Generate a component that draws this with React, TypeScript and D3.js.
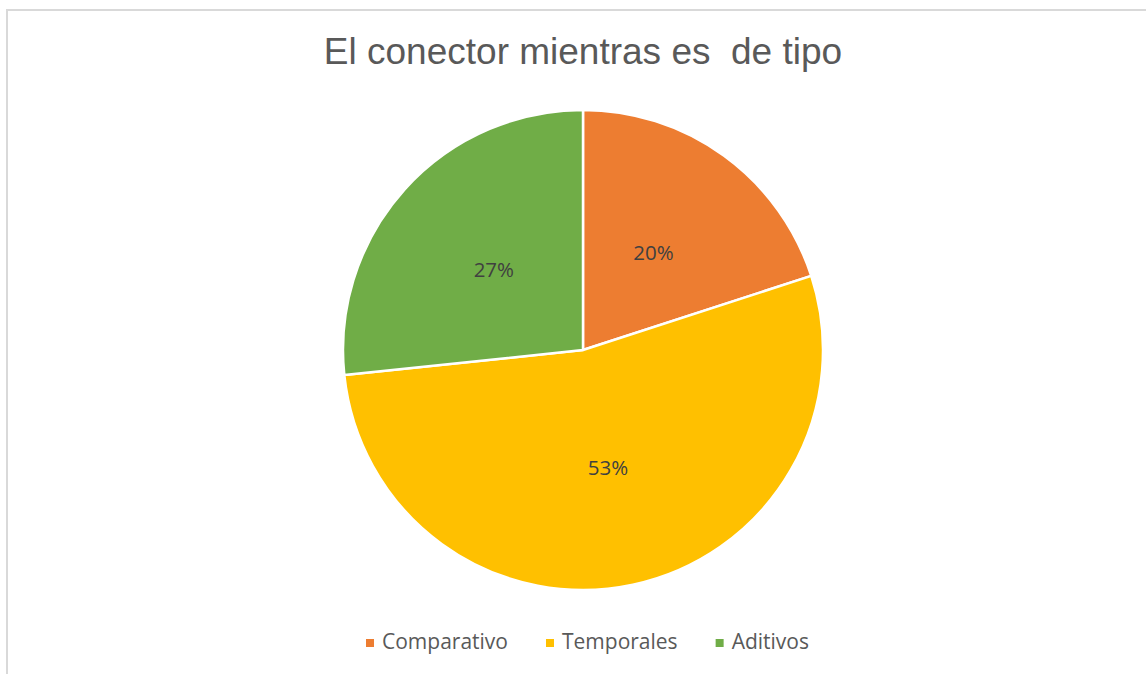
import React, { useEffect, useRef } from 'react';
import * as d3 from 'd3';

const categories = ['Comparativo', 'Temporales', 'Aditivos'];
const counts = [3, 8, 4];
const colors = ['#ED7D31', '#FFC000', '#70AD47'];
const title = 'El conector mientras es  de tipo';

const W = 1146;
const H = 674;

export default function App() {
  const svgRef = useRef<SVGSVGElement>(null);

  useEffect(() => {
    const svg = d3.select(svgRef.current);
    svg.selectAll('*').remove();

    // chart frame (only top and left edges are visible in the crop)
    svg.append('rect')
      .attr('x', 7).attr('y', 10)
      .attr('width', W + 20).attr('height', H + 20)
      .attr('fill', '#fff')
      .attr('stroke', '#d9d9d9')
      .attr('stroke-width', 2);

    svg.append('text')
      .attr('x', 583).attr('y', 64)
      .attr('text-anchor', 'middle')
      .attr('font-family', '"Liberation Sans", Arial, sans-serif')
      .attr('font-size', 37)
      .attr('fill', '#595959')
      .style('white-space', 'pre')
      .text(title);

    const cx = 583, cy = 350, r = 240;
    const total = d3.sum(counts);
    const pie = d3.pie<number>().sort(null).value(d => d);
    const arcs = pie(counts);
    const arc = d3.arc<d3.PieArcDatum<number>>().innerRadius(0).outerRadius(r);
    const labelArc = d3.arc<d3.PieArcDatum<number>>().innerRadius(r).outerRadius(0);

    const g = svg.append('g').attr('transform', `translate(${cx},${cy})`);
    g.selectAll('path')
      .data(arcs)
      .enter()
      .append('path')
      .attr('d', arc)
      .attr('fill', (_, i) => colors[i])
      .attr('stroke', '#fff')
      .attr('stroke-width', 2.5)
      .attr('stroke-linejoin', 'round');

    g.selectAll('text.lbl')
      .data(arcs)
      .enter()
      .append('text')
      .attr('class', 'lbl')
      .attr('transform', d => `translate(${labelArc.centroid(d)})`)
      .attr('text-anchor', 'middle')
      .attr('dy', '0.35em')
      .attr('font-family', '"Open Sans", sans-serif')
      .attr('font-size', 20.5)
      .attr('fill', '#404040')
      .text(d => `${Math.round((d.value / total) * 100)}%`);

    // legend, laid out from measured text widths
    const legend = svg.append('g');
    const items = legend.selectAll('g')
      .data(categories)
      .enter()
      .append('g');
    items.append('rect')
      .attr('width', 8).attr('height', 8)
      .attr('y', -10)
      .attr('fill', (_, i) => colors[i]);
    const texts = items.append('text')
      .attr('x', 16)
      .attr('font-family', '"Open Sans", sans-serif')
      .attr('font-size', 21)
      .attr('fill', '#595959')
      .text(d => d);

    const widths = texts.nodes().map(n => (n as SVGTextElement).getComputedTextLength());
    const gap = 38;
    let x = 0;
    const offsets: number[] = [];
    widths.forEach(w => {
      offsets.push(x);
      x += 16 + w + gap;
    });
    const totalW = x - gap;
    const startX = 587.5 - totalW / 2;
    items.attr('transform', (_, i) => `translate(${startX + offsets[i]},649)`);
  }, []);

  return (
    <svg
      ref={svgRef}
      width={W}
      height={H}
      style={{ position: 'absolute', left: 0, top: 0, background: '#fff' }}
    />
  );
}
